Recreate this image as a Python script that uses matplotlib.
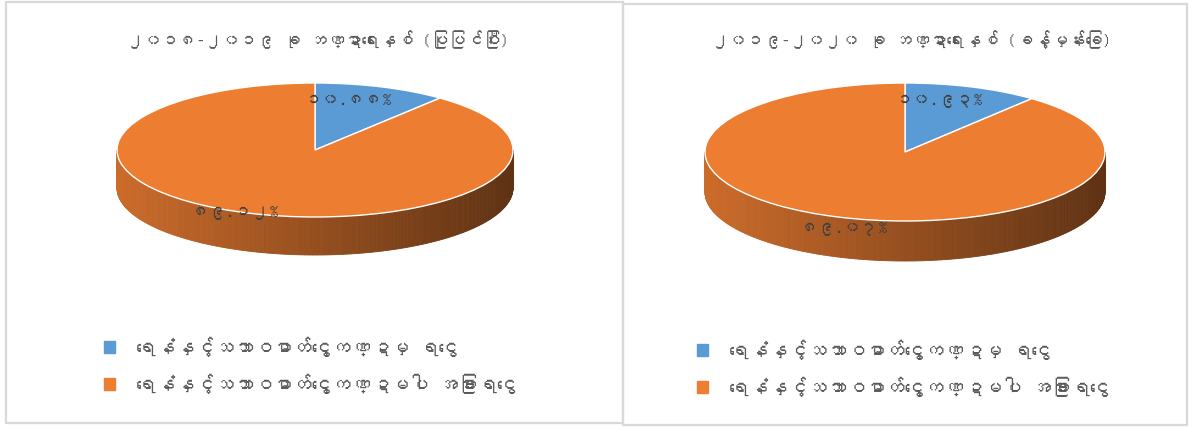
import numpy as np
import matplotlib
matplotlib.use("Agg")
import matplotlib.pyplot as plt
from matplotlib import font_manager
from matplotlib.ft2font import FT2Font
from matplotlib.patches import Rectangle, Patch
from matplotlib.collections import PolyCollection
from matplotlib.colors import to_rgb

# ---------------- data ----------------
titles = ["၂၀၁၈-၂၀၁၉ ခု ဘဏ္ဍာရေးနှစ် (ပြုပြင်ပြီး)",
          "၂၀၁၉-၂၀၂၀ ခု ဘဏ္ဍာရေးနှစ် (ခန့်မှန်းခြေ)"]
categories = ["ရေနံနှင့်သဘာဝဓာတ်ငွေ့ကဏ္ဍမှ ရငွေ",
              "ရေနံနှင့်သဘာဝဓာတ်ငွေ့ကဏ္ဍမပါ အခြားရငွေ"]
share_2018_19 = [10.88, 89.12]
share_2019_20 = [10.93, 89.07]
colors = ["#5B9BD5", "#ED7D31"]

# ---------------- fonts ----------------
def find_myanmar_font():
    for f in font_manager.fontManager.ttflist:
        try:
            cm = FT2Font(f.fname).get_charmap()
            if 0x1000 in cm and 0x1041 in cm and 0x1031 in cm:
                return f.name
        except Exception:
            pass
    return None

mm = find_myanmar_font()
family = [mm, "DejaVu Sans"] if mm else ["DejaVu Sans"]
plt.rcParams["font.family"] = family

MY_DIGITS = str.maketrans("0123456789", "၀၁၂၃၄၅၆၇၈၉")

def my_pct(v):
    return f"{v:.2f}%".translate(MY_DIGITS)

W, H = 1195, 428
fig = plt.figure(figsize=(W / 100, H / 100), dpi=100)
fig.patch.set_facecolor("white")

# panel borders
for (x0, y0, x1, y1) in [(6, 2, 623, 423), (623, 4, 1187, 425)]:
    fig.patches.append(Rectangle((x0 / W, (H - y1) / H), (x1 - x0) / W, (y1 - y0) / H,
                                 transform=fig.transFigure, fill=False,
                                 edgecolor="#d9d9d9", linewidth=1.6, zorder=0))


def shade(rgb, x):
    f = 0.86 - 0.46 * (x + 1) / 2
    return tuple(min(1, c * f) for c in rgb)


def pie3d(values, cx, cy, a, b, depth, lab_r):
    dd = depth / b
    m = 1.3
    ax = fig.add_axes([(cx - m * a) / W, (H - (cy + (m + dd) * b)) / H,
                       2 * m * a / W, (2 * m + dd) * b / H])
    vals = np.array(values, dtype=float)
    fr = vals / vals.sum()
    cum = np.concatenate([[0], np.cumsum(fr)])
    # side wall (front half)
    th = np.radians(np.linspace(180, 360, 241))
    polys, cols = [], []
    for t1, t2 in zip(th[:-1], th[1:]):
        tm = 0.5 * (t1 + t2)
        rel = ((90 - np.degrees(tm)) % 360) / 360
        idx = min(np.searchsorted(cum, rel, side="right") - 1, len(vals) - 1)
        polys.append([(np.cos(t1), np.sin(t1)), (np.cos(t2), np.sin(t2)),
                      (np.cos(t2), np.sin(t2) - dd), (np.cos(t1), np.sin(t1) - dd)])
        c = shade(to_rgb(colors[idx]), np.cos(tm))
        cols.append(c)
    pc = PolyCollection(polys, facecolors=cols, edgecolors=cols, linewidths=0.6, zorder=1)
    ax.add_collection(pc)
    wedges, _ = ax.pie(vals, colors=colors, startangle=90, counterclock=False,
                       wedgeprops=dict(edgecolor="white", linewidth=1.0),
                       radius=1.0)
    for w in wedges:
        w.set_zorder(2)
    ax.set_aspect("auto")
    ax.set_xlim(-m, m)
    ax.set_ylim(-m - dd, m)
    ax.axis("off")
    # labels
    for i, v in enumerate(vals):
        mid = np.radians(90 - 360 * (cum[i] + cum[i + 1]) / 2)
        rx, ry = lab_r[i]
        ax.text(rx * np.cos(mid), ry * np.sin(mid), my_pct(v), ha="center", va="center",
                fontsize=12.5, color="#404040", zorder=5)
    return ax


pie3d(share_2018_19, 315, 150, 198, 67, 38, [(0.5, 0.8), (1.2, 0.99)])
pie3d(share_2019_20, 905, 152, 200, 69, 40, [(0.5, 0.8), (0.9, 1.17)])

# titles
fig.text(318 / W, 1 - 40 / H, titles[0], ha="center", va="center", fontsize=12.5, color="#595959")
fig.text(912 / W, 1 - 40 / H, titles[1], ha="center", va="center", fontsize=12.5, color="#595959")

# legends
handles = [Patch(facecolor=c, edgecolor=c) for c in colors]
for (lx, ly) in [(104, 337), (697, 340)]:
    fig.legend(handles, categories, loc="upper left",
               bbox_to_anchor=(lx / W, 1 - ly / H), frameon=False,
               fontsize=14, labelcolor="#595959",
               handlelength=0.55, handleheight=0.55, handletextpad=1.1,
               labelspacing=0.85, borderaxespad=0, borderpad=0)

fig.savefig("out.png", dpi=100, facecolor="white")
